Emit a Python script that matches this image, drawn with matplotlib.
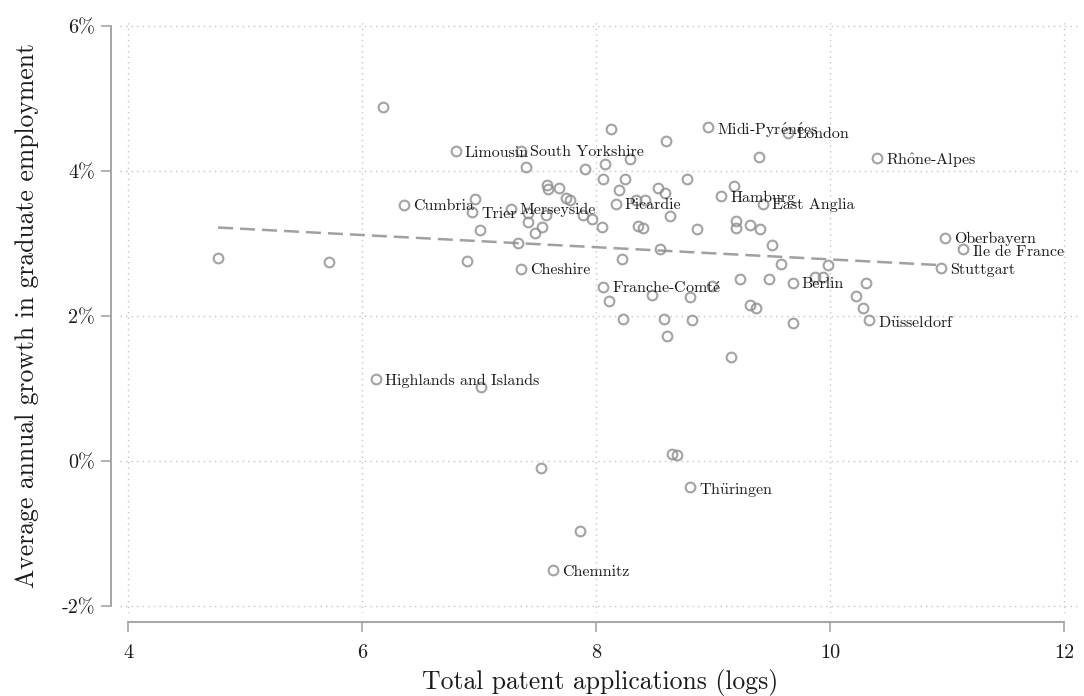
import matplotlib
matplotlib.use("Agg")
import matplotlib.pyplot as plt

# ---- data ----
labeled_names = ["Highlands and Islands", "Cumbria", "Limousin", "South Yorkshire", "Trier",
                 "Merseyside", "Cheshire", "Picardie", "Franche-Comté", "Midi-Pyrénées",
                 "London", "Rhône-Alpes", "Hamburg", "East Anglia", "Oberbayern",
                 "Île de France", "Stuttgart", "Berlin", "Düsseldorf", "Thüringen", "Chemnitz"]
labeled_x = [6.12, 6.36, 6.80, 7.36, 6.94, 7.27, 7.36, 8.17, 8.06, 8.96,
             9.64, 10.40, 9.07, 9.43, 10.98, 11.14, 10.95, 9.68, 10.33, 8.80, 7.63]
labeled_y = [1.13, 3.53, 4.27, 4.28, 3.43, 3.48, 2.65, 3.55, 2.40, 4.61,
             4.53, 4.18, 3.65, 3.55, 3.08, 2.92, 2.66, 2.46, 1.94, -0.36, -1.51]

other_x = [4.77, 5.72, 6.18, 6.90, 6.97, 7.01, 7.02, 7.33, 7.40, 7.42, 7.42, 7.48, 7.53, 7.54,
           7.57, 7.58, 7.59, 7.68, 7.74, 7.78, 7.86, 7.89, 7.91, 7.97, 8.05, 8.06, 8.08, 8.11,
           8.13, 8.20, 8.22, 8.23, 8.25, 8.29, 8.34, 8.36, 8.40, 8.42, 8.48, 8.53, 8.55, 8.58,
           8.59, 8.60, 8.61, 8.63, 8.65, 8.69, 8.78, 8.80, 8.82, 8.86, 8.99, 9.15, 9.18, 9.20,
           9.20, 9.23, 9.32, 9.37, 9.32, 9.39, 9.40, 9.48, 9.50, 9.58, 9.68, 9.87, 9.94, 9.98,
           10.22, 10.28, 10.31]
other_y = [2.80, 2.75, 4.88, 2.76, 3.62, 3.18, 1.02, 3.01, 4.06, 3.42, 3.29, 3.15, -0.09, 3.23,
           3.39, 3.81, 3.75, 3.76, 3.63, 3.60, -0.96, 3.39, 4.03, 3.34, 3.23, 3.89, 4.09, 2.20,
           4.58, 3.74, 2.78, 1.96, 3.89, 4.17, 3.60, 3.24, 3.22, 3.60, 2.29, 3.76, 2.92, 1.96,
           3.70, 4.42, 1.72, 3.38, 0.10, 0.08, 3.89, 2.26, 1.94, 3.20, 2.41, 1.44, 3.79, 3.31,
           3.22, 2.51, 2.15, 2.11, 3.26, 4.19, 3.20, 2.51, 2.98, 2.72, 1.90, 2.54, 2.54, 2.70,
           2.27, 2.11, 2.46]

fit_x = [4.77, 10.96]
fit_y = [3.22, 2.70]

x_ticks = [4, 6, 8, 10, 12]
y_ticks = [-2, 0, 2, 4, 6]
y_ticklabels = ["-2%", "0%", "2%", "4%", "6%"]

# ---- style ----
plt.rcParams['font.family'] = ['cmr10', 'DejaVu Serif']
plt.rcParams['mathtext.fontset'] = 'cm'
plt.rcParams['axes.unicode_minus'] = False
plt.rcParams['axes.formatter.use_mathtext'] = True

# render accented letters with Computer Modern accents (cmr10 lacks precomposed glyphs)
ACCENTS = {'é': r'$\acute{\mathrm{e}}$', 'ô': r'$\hat{\mathrm{o}}$',
           'ü': r'$\ddot{\mathrm{u}}$', 'Î': r'$\hat{\mathrm{I}}$'}


def tex_label(s):
    return ''.join(ACCENTS.get(c, c) for c in s)


W, H = 1084, 696
fig = plt.figure(figsize=(W / 100, H / 100), dpi=100)
ax = fig.add_axes([0.1105, 0.1189, 0.8862, 0.8542])
ax.set_xlim(3.93, 12.14)
ax.set_ylim(-2.1, 6.1)

mk_color = '#8c8c8c'
grid_color = '#c4c4c4'
axis_color = '#a6a6a6'

for t in x_ticks:
    ax.axvline(t, color=grid_color, lw=1.0, ls=(0, (1, 3)), zorder=0)
for t in y_ticks:
    ax.axhline(t, color=grid_color, lw=1.0, ls=(0, (1, 3)), zorder=0)

ax.plot(other_x + labeled_x, other_y + labeled_y, ls='none', marker='o', ms=7,
        mfc='none', mec=mk_color, mew=1.5, alpha=0.8, zorder=3)
ax.plot(fit_x, fit_y, color='#a0a0a0', lw=1.8, ls=(0, (6, 2.8)), zorder=2)

for name, x, y in zip(labeled_names, labeled_x, labeled_y):
    ax.annotate(tex_label(name), (x, y), xytext=(6.5, 0), textcoords='offset points',
                ha='left', va='center_baseline', fontsize=11.5, color='#1a1a1a', zorder=4)

for s in ['top', 'right']:
    ax.spines[s].set_visible(False)
ax.spines['left'].set_position(('outward', 6))
ax.spines['bottom'].set_position(('outward', 6.5))
ax.spines['left'].set_bounds(-2, 6)
ax.spines['bottom'].set_bounds(4, 12)
for s in ['left', 'bottom']:
    ax.spines[s].set_color(axis_color)
    ax.spines[s].set_linewidth(1.4)

ax.set_xticks(x_ticks)
ax.set_xticklabels([str(t) for t in x_ticks])
ax.set_yticks(y_ticks)
ax.set_yticklabels(y_ticklabels)
ax.tick_params(axis='both', colors=axis_color, width=1.2, length=7.5, labelsize=14.5,
               labelcolor='#1a1a1a')
ax.tick_params(axis='x', pad=8.5)
ax.tick_params(axis='y', pad=4.5)

ax.set_xlabel("Total patent applications (logs)", fontsize=18.5, color='#1a1a1a', labelpad=5)
ax.set_ylabel("Average annual growth in graduate employment", fontsize=18.5, color='#1a1a1a',
              labelpad=16)

fig.savefig("out.png", dpi=100)
